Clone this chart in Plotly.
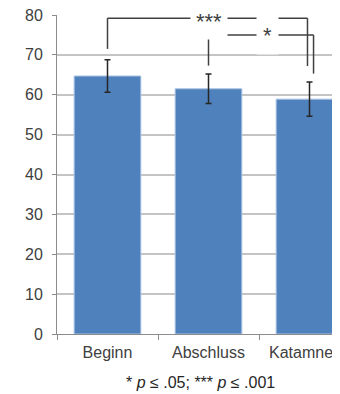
import plotly.graph_objects as go

# ---- data ----
categories = ["Beginn", "Abschluss", "Katamnese"]
means = [64.7, 61.5, 58.9]
errors = [4.1, 3.7, 4.3]

# significance brackets
bracket_labels = ["***", "*"]
bracket_x0 = [0, 1]
bracket_x1 = [1.98, 2.04]
bracket_height = [79.2, 75.0]
bracket_left_end = [71.5, 67.3]
bracket_right_end = [67.2, 65.3]
bracket_label_x = [1.0, 1.58]

y_ticks = [0, 10, 20, 30, 40, 50, 60, 70, 80]
footnote = "* <i>p</i> ≤ .05; *** <i>p</i> ≤ .001"

FONT = "Liberation Sans, Arial, sans-serif"
TXT = "#404040"

fig = go.Figure()
fig.add_trace(go.Bar(
    x=categories, y=means, width=0.66,
    marker=dict(color="#4f81bd", line=dict(color="#a9c2e2", width=1)),
    error_y=dict(type="data", array=errors, color="#262626", thickness=1.5, width=3),
    showlegend=False,
))

shapes = []
annotations = []
for lab, x0, x1, h, le, re, lx in zip(bracket_labels, bracket_x0, bracket_x1, bracket_height,
                                     bracket_left_end, bracket_right_end, bracket_label_x):
    ln = dict(color="#404040", width=1.5)
    shapes.append(dict(type="line", xref="x", yref="y", x0=x0, x1=x1, y0=h, y1=h, line=ln))
    shapes.append(dict(type="line", xref="x", yref="y", x0=x0, x1=x0, y0=le, y1=h, line=ln))
    shapes.append(dict(type="line", xref="x", yref="y", x0=x1, x1=x1, y0=re, y1=h, line=ln))
    annotations.append(dict(x=lx, y=h, xref="x", yref="y", text=lab, showarrow=False,
                            font=dict(family=FONT, size=22, color="#404040"),
                            bgcolor="white", borderpad=5 if lab == "***" else 6,
                            yshift=-3 if lab == "***" else -1))

annotations.append(dict(x=0.508, y=-0.1536, xref="paper", yref="paper", text=footnote,
                        showarrow=False, xanchor="center", yanchor="middle",
                        font=dict(family=FONT, size=16, color="#262626")))

# page has an 8px body margin: figure is sized/margined to compensate
fig.update_layout(
    width=332, height=386,
    margin=dict(l=49, r=0, t=7, b=60),
    paper_bgcolor="white", plot_bgcolor="white",
    font=dict(family=FONT, size=16, color=TXT),
    bargap=0.34,
    shapes=shapes, annotations=annotations,
    xaxis=dict(type="category", range=[-0.5, 2.302], tickson="boundaries",
               ticks="outside", ticklen=5, tickcolor="#8c8c8c", tickwidth=1,
               showline=True, linecolor="#8c8c8c", linewidth=1, showgrid=False,
               ticklabelstandoff=4, ticklabeloverflow="allow", automargin=False,
               tickfont=dict(size=16, color=TXT)),
    yaxis=dict(range=[0, 80], tickvals=y_ticks, ticks="outside", ticklen=4,
               tickcolor="#8c8c8c", showline=True, linecolor="#8c8c8c", linewidth=1,
               showgrid=True, gridcolor="#c4c4c4", gridwidth=1.5, zeroline=False,
               ticklabelstandoff=6, ticklabeloverflow="allow", automargin=False,
               tickfont=dict(size=16, color=TXT)),
)

fig.write_html("out.html")
